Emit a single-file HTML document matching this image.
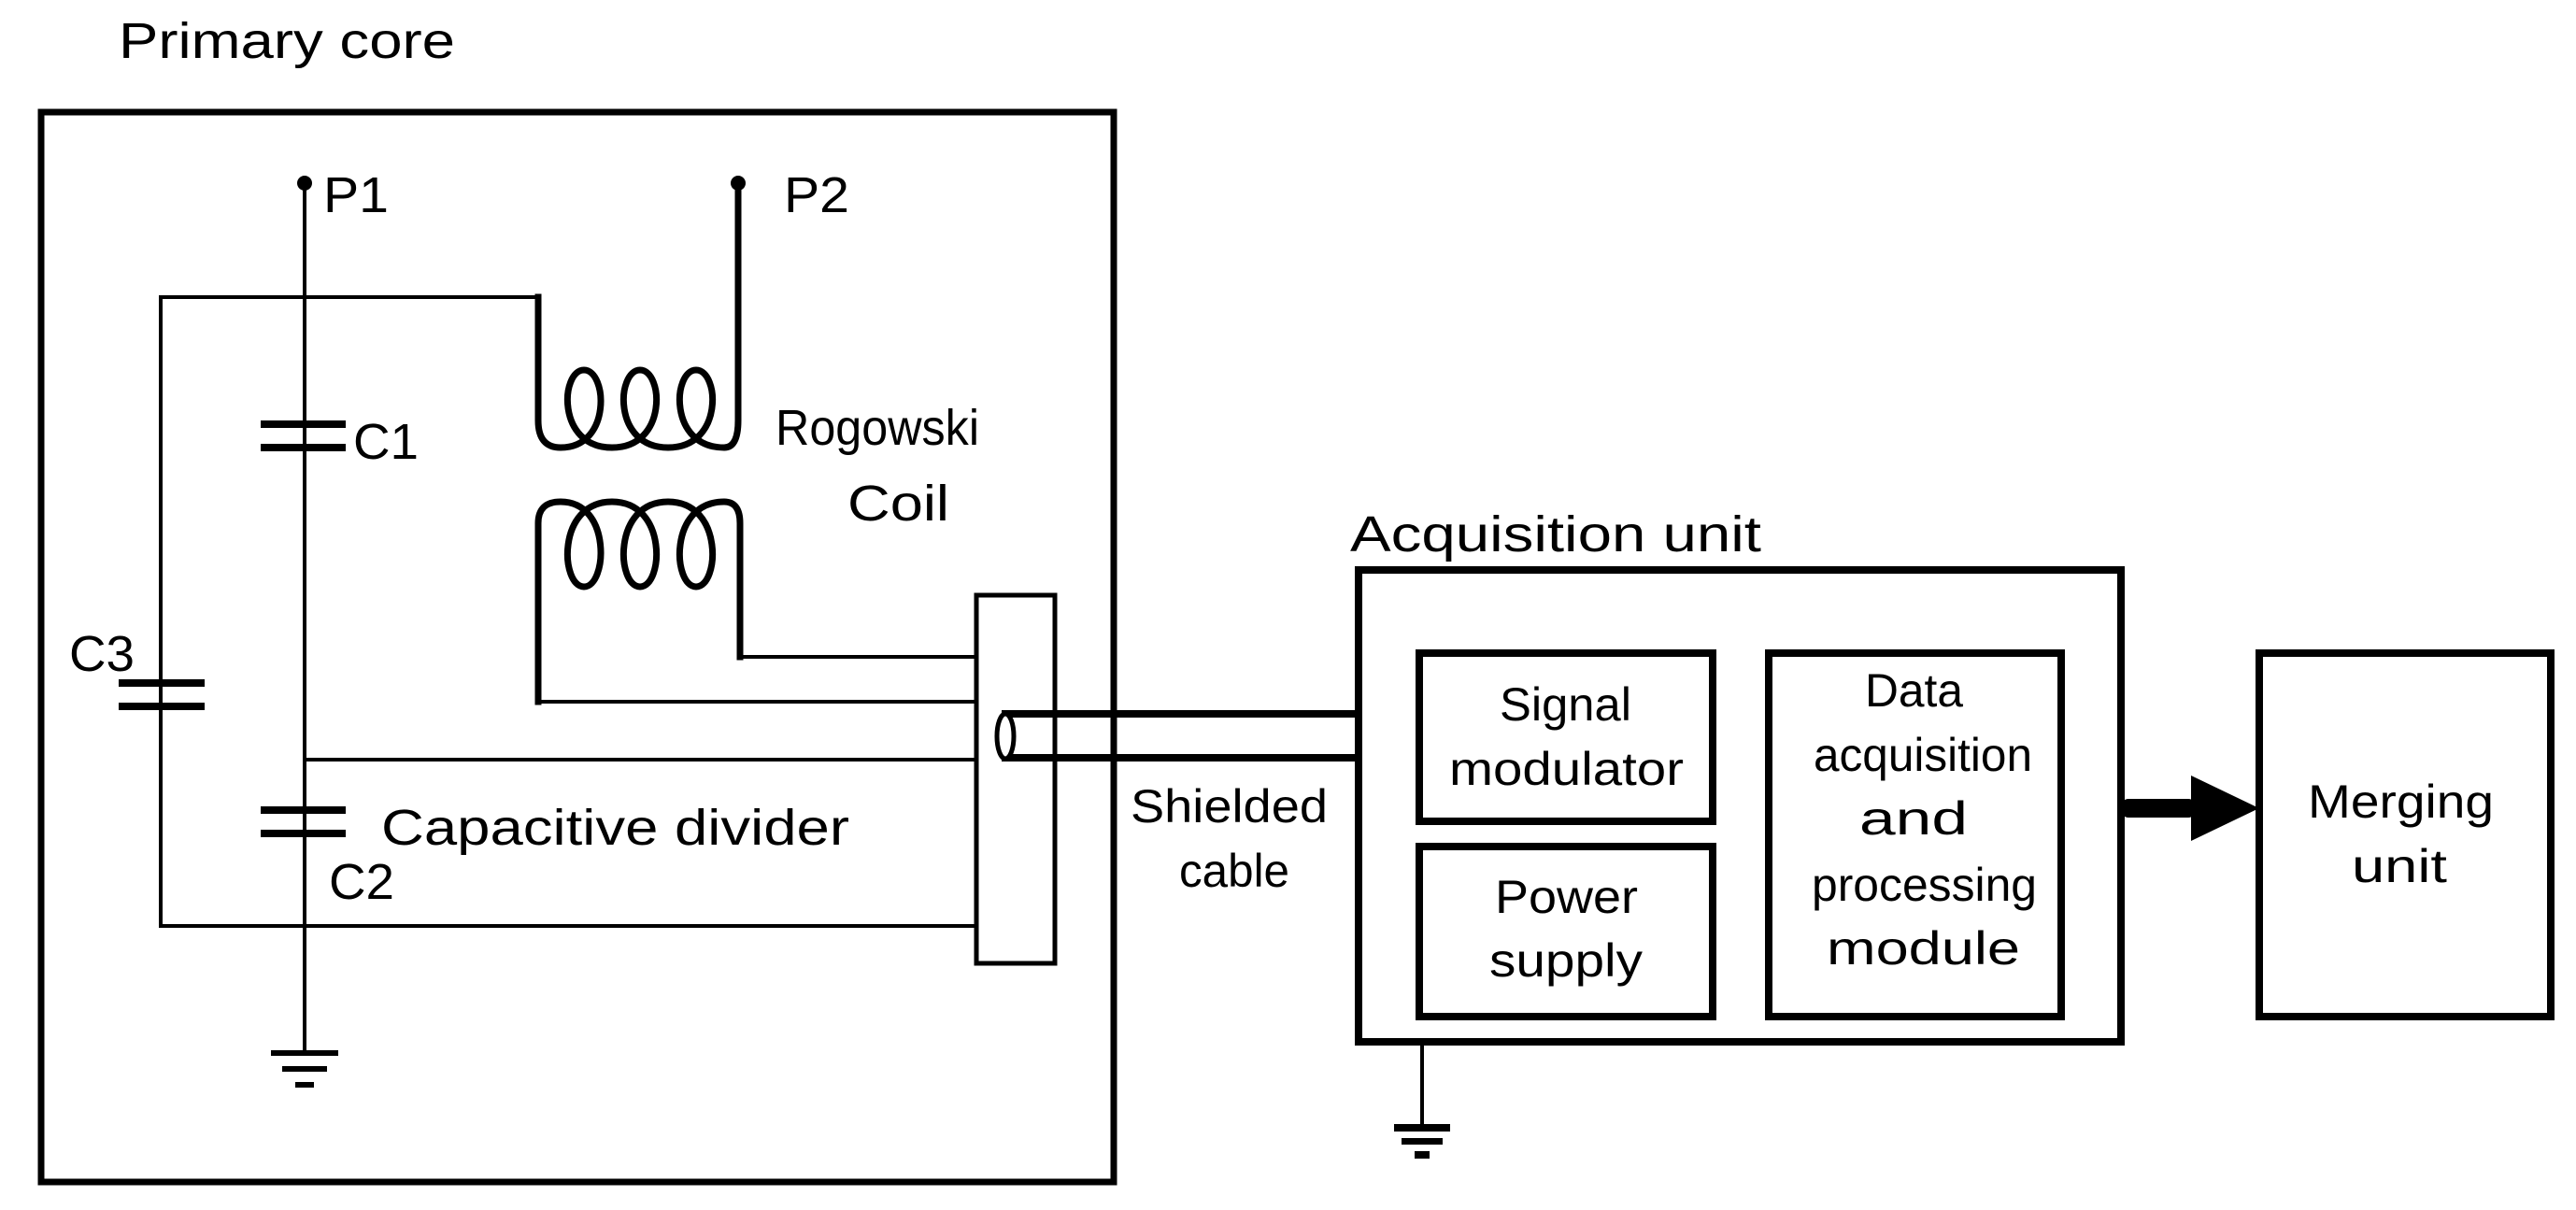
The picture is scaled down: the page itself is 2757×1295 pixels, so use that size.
<!DOCTYPE html>
<html><head><meta charset="utf-8"><style>
html,body{margin:0;padding:0;background:#fff;}
svg{display:block;}
text{font-family:"Liberation Sans",sans-serif;fill:#000;}
</style></head><body>
<svg width="2757" height="1295" viewBox="0 0 2757 1295" xmlns="http://www.w3.org/2000/svg">
<g fill="none" stroke="#000" stroke-linecap="square">
<rect x="44" y="120" width="1148" height="1145" stroke-width="7"/>
<line x1="326" y1="194" x2="326" y2="1127" stroke-width="4"/>
<polyline points="172,991 172,318 576,318" stroke-width="4"/>
<path d="M576,318 V450 Q576,479 600,479 C655,479 650,396 625,396 C600,396 595,479 655,479 C715,479 710,396 685,396 C660,396 655,479 715,479 C775,479 770,396 745,396 C720,396 715,479 775,479 Q790,479 790,450 V194" stroke-width="7"/>
<path d="M576,751 V560 Q576,537 600,537 C655,537 650,628 625,628 C600,628 595,537 655,537 C715,537 710,628 685,628 C660,628 655,537 715,537 C775,537 770,628 745,628 C720,628 715,537 775,537 Q792,537 792,560 V703" stroke-width="7"/>
<polyline points="576,751 1045,751" stroke-width="4"/>
<polyline points="792,703 1045,703" stroke-width="4"/>
<line x1="326" y1="813" x2="1045" y2="813" stroke-width="4"/>
<line x1="172" y1="991" x2="1045" y2="991" stroke-width="4"/>
<rect x="1045" y="637" width="84" height="394" stroke-width="5" fill="#fff"/>
<line x1="1076" y1="764" x2="1454" y2="764" stroke-width="8"/>
<line x1="1076" y1="811" x2="1454" y2="811" stroke-width="8"/>
<ellipse cx="1076" cy="788" rx="9" ry="24" stroke-width="5" fill="#fff"/>
<rect x="1454" y="610" width="816" height="505" stroke-width="8"/>
<rect x="1519" y="699" width="314" height="180" stroke-width="8"/>
<rect x="1519" y="906" width="314" height="182" stroke-width="8"/>
<rect x="1893" y="699" width="313" height="389" stroke-width="8"/>
<rect x="2418" y="699" width="312" height="389" stroke-width="8"/>
<line x1="1522" y1="1115" x2="1522" y2="1205" stroke-width="4"/>
</g>
<g fill="#000">
<circle cx="326" cy="196" r="8"/>
<circle cx="790" cy="196" r="8"/>
<rect x="279" y="450" width="91" height="8"/><rect x="279" y="475" width="91" height="8"/>
<rect x="279" y="863" width="91" height="8"/><rect x="279" y="888" width="91" height="8"/>
<rect x="127" y="727" width="92" height="8"/><rect x="127" y="752" width="92" height="8"/>
<rect x="290" y="1124" width="72" height="6"/><rect x="302" y="1141" width="48" height="6"/><rect x="316" y="1158" width="20" height="6"/>
<rect x="1492" y="1203" width="60" height="8"/><rect x="1500" y="1218" width="44" height="7"/><rect x="1514" y="1232" width="16" height="8"/>
<rect x="2270" y="855" width="80" height="20" rx="8"/>
<polygon points="2345,830 2418,865 2345,900"/>
</g>
<g font-size="54" lengthAdjust="spacingAndGlyphs">
<text x="127" y="62" textLength="360" lengthAdjust="spacingAndGlyphs">Primary core</text>
<text x="346" y="227" textLength="70" lengthAdjust="spacingAndGlyphs">P1</text>
<text x="839" y="227" textLength="70" lengthAdjust="spacingAndGlyphs">P2</text>
<text x="378" y="491" textLength="70" lengthAdjust="spacingAndGlyphs">C1</text>
<text x="74" y="718" textLength="70" lengthAdjust="spacingAndGlyphs">C3</text>
<text x="352" y="962" textLength="70" lengthAdjust="spacingAndGlyphs">C2</text>
<text x="408" y="904" textLength="501" lengthAdjust="spacingAndGlyphs">Capacitive divider</text>
<text x="830" y="476" textLength="218" lengthAdjust="spacingAndGlyphs">Rogowski</text>
<text x="907" y="557" textLength="109" lengthAdjust="spacingAndGlyphs">Coil</text>
<text x="1445" y="590" textLength="440" lengthAdjust="spacingAndGlyphs">Acquisition unit</text>
</g>
<g font-size="50">
<text x="1210" y="880" textLength="211" lengthAdjust="spacingAndGlyphs">Shielded</text>
<text x="1262" y="949" textLength="118" lengthAdjust="spacingAndGlyphs">cable</text>
<text x="1605" y="771" textLength="141" lengthAdjust="spacingAndGlyphs">Signal</text>
<text x="1551" y="840" textLength="251" lengthAdjust="spacingAndGlyphs">modulator</text>
<text x="1600" y="977" textLength="153" lengthAdjust="spacingAndGlyphs">Power</text>
<text x="1594" y="1045" textLength="164" lengthAdjust="spacingAndGlyphs">supply</text>
<text x="1996" y="756" textLength="105" lengthAdjust="spacingAndGlyphs">Data</text>
<text x="1941" y="825" textLength="234" lengthAdjust="spacingAndGlyphs">acquisition</text>
<text x="1990" y="893" textLength="116" lengthAdjust="spacingAndGlyphs">and</text>
<text x="1939" y="964" textLength="241" lengthAdjust="spacingAndGlyphs">processing</text>
<text x="1955" y="1032" textLength="207" lengthAdjust="spacingAndGlyphs">module</text>
<text x="2470" y="875" textLength="199" lengthAdjust="spacingAndGlyphs">Merging</text>
<text x="2517" y="944" textLength="102" lengthAdjust="spacingAndGlyphs">unit</text>
</g>
</svg>
</body></html>
